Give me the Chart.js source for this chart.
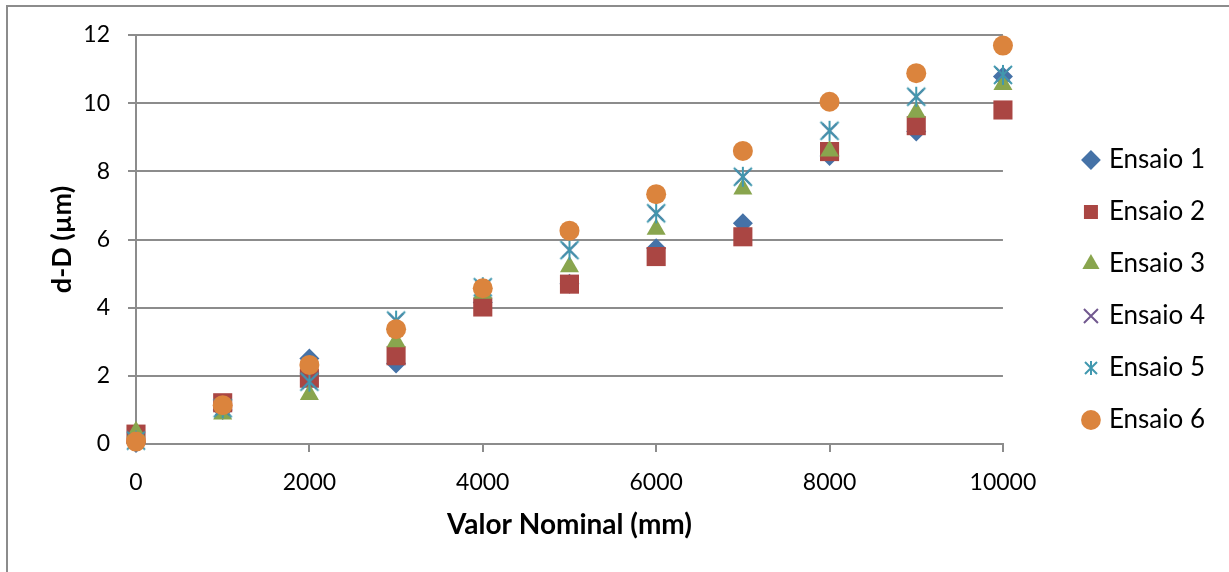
<!DOCTYPE html>
<html>
<head>
<meta charset="utf-8">
<script src="https://cdn.jsdelivr.net/npm/chart.js@4.4.0/dist/chart.umd.min.js"></script>
<style>
  html, body { margin: 0; padding: 0; background: #fff; overflow: hidden; }
  .frame { position: absolute; left: 6px; top: 5px; width: 1400px; height: 800px; border: 2px solid #8c8c8c; }
  .wrap { position: absolute; left: 0; top: 0; width: 1229px; height: 572px; }
</style>
</head>
<body>
<div class="frame"></div>
<div class="wrap"><canvas id="ensaios"></canvas></div>
<script>
const valorNominal = [0, 1000, 2000, 3000, 4000, 5000, 6000, 7000, 8000, 9000, 10000];

const ensaio1 = [0.03, 1.00, 2.51, 2.36, 4.15, 4.70, 5.74, 6.48, 8.45, 9.17, 10.78];
const ensaio2 = [0.29, 1.21, 1.93, 2.59, 4.02, 4.69, 5.50, 6.08, 8.58, 9.34, 9.80];
const ensaio3 = [0.36, 0.88, 1.45, 3.00, 4.42, 5.20, 6.30, 7.48, 8.60, 9.73, 10.55];
const ensaio4 = [0.10, 1.05, 1.83, 3.62, 4.60, 5.69, 6.77, 7.84, 9.19, 10.19, 10.83];
const ensaio5 = [0.10, 1.05, 1.83, 3.62, 4.60, 5.69, 6.77, 7.84, 9.19, 10.19, 10.83];
const ensaio6 = [0.07, 1.14, 2.32, 3.37, 4.57, 6.26, 7.33, 8.60, 10.04, 10.88, 11.69];

const nomes = ['Ensaio 1', 'Ensaio 2', 'Ensaio 3', 'Ensaio 4', 'Ensaio 5', 'Ensaio 6'];
const xTicks = [0, 2000, 4000, 6000, 8000, 10000];
const yTicks = [0, 2, 4, 6, 8, 10, 12];

const cinza = '#8c8c8c';

// marcador asterisco (X + traço vertical)
function asterisco(cor, tam) {
    const c = document.createElement('canvas');
    c.width = tam; c.height = tam;
    const g = c.getContext('2d');
    const m = 2, f = tam - 2, h = tam / 2;
    g.strokeStyle = cor;
    g.lineWidth = 2;
    g.beginPath();
    g.moveTo(m, m); g.lineTo(f, f);
    g.moveTo(f, m); g.lineTo(m, f);
    g.moveTo(h, m - 1); g.lineTo(h, f + 1);
    g.stroke();
    return c;
}

const pontos = vals => vals.map((v, i) => ({ x: valorNominal[i], y: v }));

const serie = (i, vals, estilo, cor, raio, extra) => Object.assign({
    label: nomes[i],
    data: pontos(vals),
    pointStyle: estilo,
    pointRadius: raio,
    backgroundColor: cor,
    borderColor: cor,
    borderWidth: 0,
    showLine: false,
    clip: false,
    order: 6 - i
}, extra || {});

const datasets = [
    serie(0, ensaio1, 'rectRot', '#4572A7', 10),
    serie(1, ensaio2, 'rect', '#AA4643', 13.5),
    serie(2, ensaio3, 'triangle', '#89A54E', 11),
    serie(3, ensaio4, 'crossRot', '#71588F', 10, { borderWidth: 2 }),
    serie(4, ensaio5, asterisco('#4198AF', 22), '#4198AF', 10, { borderWidth: 2 }),
    serie(5, ensaio6, 'circle', '#DB843D', 10)
];

const marcaLegenda = asterisco('#4198AF', 16);

Chart.defaults.font.family = 'Lato';
Chart.defaults.color = '#000';

new Chart(document.getElementById('ensaios'), {
    type: 'scatter',
    data: { datasets },
    options: {
        responsive: true,
        maintainAspectRatio: false,
        animation: false,
        layout: { padding: { left: 40, top: 8, right: 14, bottom: 0 } },
        plugins: {
            tooltip: { enabled: false },
            legend: {
                position: 'right',
                align: 'center',
                labels: {
                    usePointStyle: true,
                    boxWidth: 10,
                    boxHeight: 14,
                    padding: 26,
                    color: '#000',
                    font: { size: 26 },
                    sort: (a, b) => a.datasetIndex - b.datasetIndex,
                    generateLabels(chart) {
                        const itens = Chart.defaults.plugins.legend.labels.generateLabels(chart);
                        itens.forEach(it => { if (it.datasetIndex === 4) it.pointStyle = marcaLegenda; });
                        return itens;
                    }
                }
            }
        },
        scales: {
            x: {
                type: 'linear',
                position: 'bottom',
                min: 0,
                max: 10000,
                afterBuildTicks: s => { s.ticks = xTicks.map(v => ({ value: v })); },
                ticks: { font: { size: 23 }, padding: 17, maxRotation: 0, callback: v => String(v) },
                grid: { drawOnChartArea: false, drawTicks: true, tickLength: 8, color: cinza, lineWidth: 2 },
                border: { color: cinza, width: 2 },
                title: {
                    display: true,
                    text: 'Valor Nominal (mm)',
                    font: { size: 28, weight: 'bold' },
                    padding: { top: 0, bottom: 30 }
                },
                afterFit: s => { s.height = 128; }
            },
            y: {
                type: 'linear',
                position: 'left',
                min: 0,
                max: 12,
                afterBuildTicks: s => { s.ticks = yTicks.map(v => ({ value: v })); },
                ticks: { font: { size: 23 }, padding: 18, callback: v => String(v) },
                grid: { color: cinza, lineWidth: 2, tickLength: 8 },
                border: { color: cinza, width: 2 },
                title: {
                    display: true,
                    text: 'd-D (µm)',
                    font: { size: 27, weight: 'bold' },
                    padding: { top: 6, bottom: 0 }
                },
                afterFit: s => { s.width = 96; }
            },
            // faixas vazias: espaço acima da área e entre área e legenda
            topo: {
                axis: 'x',
                position: 'top',
                ticks: { display: false },
                grid: { display: false },
                border: { display: false },
                afterFit: s => { s.height = 27; }
            },
            folga: {
                axis: 'y',
                position: 'right',
                ticks: { display: false },
                grid: { display: false },
                border: { display: false },
                afterFit: s => { s.width = 57; }
            }
        }
    }
});
</script>
</body>
</html>
